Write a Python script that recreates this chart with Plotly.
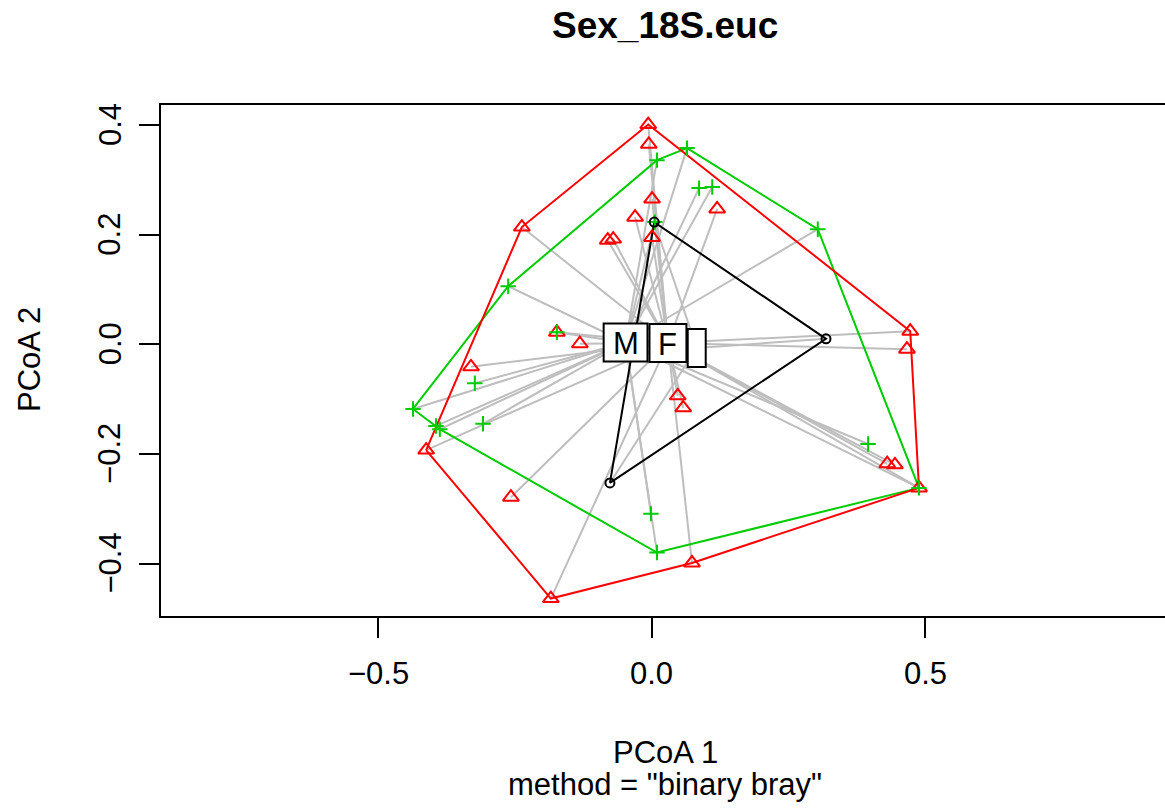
import numpy as np
import plotly.graph_objects as go

# ---------------- data (PCoA scores) ----------------
# Group "F" (red triangles)
F_x = [-0.006, -0.005, 0.001, -0.030, -0.080, -0.070, 0.001, 0.120, -0.237, -0.173,
       -0.131, -0.330, -0.412, -0.257, -0.184, 0.074, 0.048, 0.058, 0.473, 0.467,
       0.431, 0.445, 0.489]
F_y = [0.401, 0.365, 0.265, 0.232, 0.190, 0.192, 0.195, 0.247, 0.214, 0.022,
       0.001, -0.041, -0.193, -0.279, -0.464, -0.399, -0.094, -0.116, 0.024, -0.009,
       -0.218, -0.220, -0.262]
# Group "M" (green crosses)
M_x = [0.010, 0.065, 0.087, 0.111, 0.006, -0.262, -0.173, -0.323, -0.436, -0.394,
       -0.387, -0.308, -0.001, 0.010, 0.304, 0.396, 0.489]
M_y = [0.336, 0.358, 0.285, 0.287, 0.223, 0.106, 0.022, -0.071, -0.118, -0.149,
       -0.155, -0.145, -0.309, -0.380, 0.210, -0.182, -0.262]
# Group "" (unlabelled, black circles)
U_x = [0.005, 0.319, -0.076]
U_y = [0.223, 0.010, -0.253]

group_labels = ["M", "F", ""]
x_ticks = [-0.5, 0.0, 0.5]
x_tick_text = ["\u22120.5", "0.0", "0.5"]
y_ticks = [-0.4, -0.2, 0.0, 0.2, 0.4]
y_tick_text = ["\u22120.4", "\u22120.2", "0.0", "0.2", "0.4"]
title_text = "Sex_18S.euc"
x_title = "PCoA 1"
x_sub = 'method = "binary bray"'
y_title = "PCoA 2"

groups = {
    "M": dict(x=M_x, y=M_y, color="#00CD00", symbol="cross-thin-open", size=11),
    "F": dict(x=F_x, y=F_y, color="#FF0000", symbol="triangle-up-open", size=14),
    "": dict(x=U_x, y=U_y, color="#000000", symbol="circle-open", size=9),
}

# ---------------- layout geometry ----------------
W, H = 1165, 812
L, R, T, B = 161, 0, 105, 196
plot_w = W - L - R
plot_h = H - T - B
FONT = "Liberation Sans, Arial, Helvetica, sans-serif"
FS = 31


def py2paper(py):
    return (H - B - py) / plot_h


def px2paper(px):
    return (px - L) / plot_w


def convex_hull(xs, ys):
    pts = sorted(set(zip(xs, ys)))
    if len(pts) < 3:
        return pts + pts[:1]

    def cross(o, a, b):
        return (a[0] - o[0]) * (b[1] - o[1]) - (a[1] - o[1]) * (b[0] - o[0])

    lower = []
    for p in pts:
        while len(lower) >= 2 and cross(lower[-2], lower[-1], p) <= 0:
            lower.pop()
        lower.append(p)
    upper = []
    for p in reversed(pts):
        while len(upper) >= 2 and cross(upper[-2], upper[-1], p) <= 0:
            upper.pop()
        upper.append(p)
    h = lower[:-1] + upper[:-1]
    h.append(h[0])
    return h


fig = go.Figure()

# centroids
centroids = {}
for g in group_labels:
    d = groups[g]
    centroids[g] = (float(np.mean(d["x"])), float(np.mean(d["y"])))

# grey segments from each point to its group centroid
sx, sy = [], []
for g in group_labels:
    d = groups[g]
    cx, cy = centroids[g]
    for x, y in zip(d["x"], d["y"]):
        sx += [x, cx, None]
        sy += [y, cy, None]
fig.add_trace(go.Scatter(x=sx, y=sy, mode="lines",
                         line=dict(color="#BEBEBE", width=2),
                         hoverinfo="skip", showlegend=False))

# convex hulls
for g in group_labels:
    d = groups[g]
    h = convex_hull(d["x"], d["y"])
    fig.add_trace(go.Scatter(x=[p[0] for p in h], y=[p[1] for p in h],
                             mode="lines", line=dict(color=d["color"], width=2),
                             hoverinfo="skip", showlegend=False))

# points
for g in ["F", "M", ""]:
    d = groups[g]
    fig.add_trace(go.Scatter(x=d["x"], y=d["y"], mode="markers",
                             marker=dict(symbol=d["symbol"], size=d["size"],
                                         color=d["color"],
                                         line=dict(color=d["color"], width=2)),
                             name=g, showlegend=False))

# centroid label boxes (ordilabel style)
char_w = {"M": 0.833, "F": 0.611}
shapes = []
annotations = []
for g in group_labels:
    cx, cy = centroids[g]
    tw = sum(char_w.get(c, 0.6) for c in g) * FS
    bw = tw + 18
    bh = 38
    shapes.append(dict(type="rect", xref="x", yref="y",
                       xsizemode="pixel", ysizemode="pixel",
                       xanchor=cx, yanchor=cy,
                       x0=-bw / 2, x1=bw / 2, y0=-bh / 2, y1=bh / 2,
                       fillcolor="white", line=dict(color="black", width=2),
                       layer="above"))
    if g:
        annotations.append(dict(x=cx, y=cy, xref="x", yref="y", text=g,
                                showarrow=False, xanchor="center", yanchor="middle",
                                yshift=-1,
                                font=dict(size=FS, color="black", family=FONT)))

# tick labels
for v, t in zip(x_ticks, x_tick_text):
    annotations.append(dict(x=v, xref="x", y=py2paper(674), yref="paper", text=t,
                            showarrow=False, xanchor="center", yanchor="middle",
                            font=dict(size=FS, color="black", family=FONT)))
for v, t in zip(y_ticks, y_tick_text):
    annotations.append(dict(y=v, yref="y", x=px2paper(110), xref="paper", text=t,
                            textangle=-90, showarrow=False,
                            xanchor="center", yanchor="middle",
                            font=dict(size=FS, color="black", family=FONT)))

# titles
annotations.append(dict(x=px2paper(665), y=py2paper(25), xref="paper", yref="paper",
                        text="<b>" + title_text + "</b>", showarrow=False,
                        xanchor="center", yanchor="middle",
                        font=dict(size=37, color="black", family=FONT)))
annotations.append(dict(x=px2paper(665), y=py2paper(752), xref="paper", yref="paper",
                        text=x_title, showarrow=False,
                        xanchor="center", yanchor="middle",
                        font=dict(size=FS, color="black", family=FONT)))
annotations.append(dict(x=px2paper(665), y=py2paper(784), xref="paper", yref="paper",
                        text=x_sub, showarrow=False,
                        xanchor="center", yanchor="middle",
                        font=dict(size=FS, color="black", family=FONT)))
annotations.append(dict(x=px2paper(29), y=py2paper(360), xref="paper", yref="paper",
                        text=y_title, textangle=-90, showarrow=False,
                        xanchor="center", yanchor="middle",
                        font=dict(size=FS, color="black", family=FONT)))

x_left = (L - 651.5) / 547.0
x_right = x_left + plot_w / 547.0
y_top = (344.3 - T) / 548.0
y_bot = (344.3 - (H - B)) / 548.0

fig.update_layout(
    width=W, height=H,
    margin=dict(l=L, r=R, t=T, b=B, pad=0),
    paper_bgcolor="white", plot_bgcolor="white",
    showlegend=False,
    shapes=shapes,
    annotations=annotations,
    font=dict(family=FONT, color="black"),
    xaxis=dict(range=[x_left, x_right], showgrid=False, zeroline=False,
               showline=True, mirror=True, linecolor="black", linewidth=2,
               ticks="outside", ticklen=20, tickwidth=2, tickcolor="black",
               tickvals=x_ticks, showticklabels=False),
    yaxis=dict(range=[y_bot, y_top], showgrid=False, zeroline=False,
               showline=True, mirror=False, linecolor="black", linewidth=2,
               ticks="outside", ticklen=20, tickwidth=2, tickcolor="black",
               tickvals=y_ticks, showticklabels=False),
)

fig.write_html("out.html")
